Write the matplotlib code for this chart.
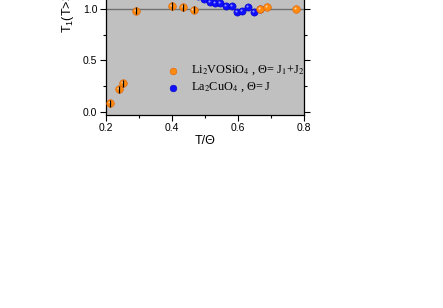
import matplotlib
matplotlib.use('Agg')
import matplotlib.pyplot as plt
import matplotlib.transforms as mtransforms
from matplotlib.ticker import MultipleLocator, FormatStrFormatter

plt.rcParams['font.family'] = ['Liberation Sans', 'DejaVu Sans']
plt.rcParams['mathtext.fontset'] = 'custom'
plt.rcParams['mathtext.rm'] = 'Liberation Sans'
plt.rcParams['mathtext.it'] = 'Liberation Sans'

# Li2VOSiO4 data (with error bars)
li_x = [0.213, 0.241, 0.252, 0.292, 0.402, 0.435, 0.466, 0.666, 0.689, 0.777]
li_y = [0.082, 0.218, 0.276, 0.983, 1.030, 1.017, 0.993, 1.000, 1.020, 0.997]
li_err = [0.035, 0.035, 0.035, 0.035, 0.035, 0.035, 0.035, 0.0, 0.0, 0.0]

# La2CuO4 data
la_x = [0.480, 0.497, 0.515, 0.530, 0.545, 0.563, 0.581, 0.598, 0.613, 0.630, 0.649, 0.666]
la_y = [1.130, 1.095, 1.070, 1.058, 1.055, 1.032, 1.030, 0.974, 0.980, 1.020, 0.970, 1.003]

orange = '#ff8a10'
blue = '#1010ff'

fig = plt.figure(figsize=(4.43, 3.08), dpi=100)
ax = fig.add_axes([0.2386, 0.6266, 0.4476, 0.4108])
ax.set_facecolor('#c0c0c0')

ax.axhline(1.0, color='#707070', lw=1.0, zorder=1)

# sphere-like highlight offset
hl = mtransforms.offset_copy(ax.transData, fig=fig, x=-0.8, y=0.8, units='points')

ax.plot(la_x, la_y, 'o', ms=5.2, mfc=blue, mec='#0000c0', mew=0.4, ls='none', zorder=3)
ax.plot(la_x, la_y, 'o', ms=1.5, mfc='#9090ff', mec='none', ls='none', zorder=4, transform=hl)

ax.plot(li_x, li_y, 'o', ms=5.5, mfc=orange, mec='#e06000', mew=0.4, ls='none', zorder=5)
ax.plot(li_x, li_y, 'o', ms=1.5, mfc='#ffd0a0', mec='none', ls='none', zorder=6, transform=hl)
ax.errorbar(li_x, li_y, yerr=li_err, fmt='none', ecolor='black', elinewidth=0.9, capsize=0, zorder=7)

ax.set_xlim(0.2, 0.8)
ax.set_ylim(-0.032, 1.2)
ax.xaxis.set_major_locator(MultipleLocator(0.2))
ax.xaxis.set_minor_locator(MultipleLocator(0.1))
ax.yaxis.set_major_locator(MultipleLocator(0.5))
ax.yaxis.set_minor_locator(MultipleLocator(0.25))
ax.xaxis.set_major_formatter(FormatStrFormatter('%.1f'))
ax.yaxis.set_major_formatter(FormatStrFormatter('%.1f'))
ax.tick_params(which='both', direction='out', top=True, right=True, labelsize=7.5, width=0.8, pad=2)
ax.tick_params(which='major', length=4)
ax.tick_params(which='minor', length=2.5)
for s in ax.spines.values():
    s.set_linewidth(0.9)

ax.set_xlabel('T/Θ', fontsize=9, labelpad=1)
ax.text(-0.19, 0.77, 'T$_1$(T>>Θ)/T$_1$', transform=ax.get_yaxis_transform(),
        rotation=90, ha='center', va='bottom', fontsize=9)

# legend drawn as text + markers
serif = 'Liberation Serif'
ax.plot([0.403], [0.40], 'o', ms=4.8, mfc=orange, mec='#e06000', mew=0.4, zorder=5)
ax.plot([0.403], [0.235], 'o', ms=4.8, mfc=blue, mec='#0000c0', mew=0.4, zorder=5)
ax.text(0.458, 0.40, 'Li$_2$VOSiO$_4$ , Θ= J$_1$+J$_2$', fontsize=8.8, family=serif,
        va='center', ha='left', math_fontfamily='stix')
ax.text(0.458, 0.235, 'La$_2$CuO$_4$ , Θ= J', fontsize=8.8, family=serif,
        va='center', ha='left', math_fontfamily='stix')

fig.savefig('out.png', dpi=100)
